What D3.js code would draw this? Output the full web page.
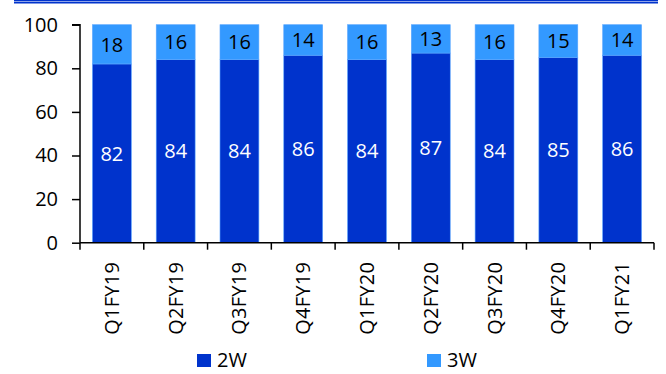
<!DOCTYPE html>
<html>
<head>
<meta charset="utf-8">
<script src="https://cdnjs.cloudflare.com/ajax/libs/d3/7.8.5/d3.min.js"></script>
<style>
  body { margin: 0; background: #fff; }
  text { font-family: "Open Sans", sans-serif; }
</style>
</head>
<body>
<div id="chart"></div>
<script>
// Chart data
var quarters = ["Q1FY19", "Q2FY19", "Q3FY19", "Q4FY19", "Q1FY20", "Q2FY20", "Q3FY20", "Q4FY20", "Q1FY21"];
var twoW = [82, 84, 84, 86, 84, 87, 84, 85, 86];
var threeW = [18, 16, 16, 14, 16, 13, 16, 15, 14];
var yTicks = [0, 20, 40, 60, 80, 100];
var seriesNames = ["2W", "3W"];

var colors = { "2W": "#0033cc", "3W": "#3399ff" };

// SVG area
var svgWidth = 666;
var svgHeight = 374;

var margin = { top: 24.7, right: 12, bottom: 131.3, left: 80 };
var width = 654 - margin.left;
var height = svgHeight - margin.top - margin.bottom;

var svg = d3.select("#chart")
  .append("svg")
  .attr("width", svgWidth)
  .attr("height", svgHeight);

// top rule lines
svg.append("line")
  .attr("x1", 14).attr("x2", 658)
  .attr("y1", 0.6).attr("y2", 0.6)
  .attr("stroke", "#0033cc").attr("stroke-width", 1.2);
svg.append("line")
  .attr("x1", 14).attr("x2", 658)
  .attr("y1", 2.6).attr("y2", 2.6)
  .attr("stroke", "#0033cc").attr("stroke-width", 1.6);

var chartGroup = svg.append("g")
  .attr("transform", `translate(${margin.left}, ${margin.top})`);

// Build stacked rows
var rows = quarters.map(function(q, i) {
  return { q: q, "2W": twoW[i], "3W": threeW[i] };
});
var stacked = d3.stack().keys(seriesNames)(rows);

// Scales
var xScale = d3.scaleBand()
  .domain(quarters)
  .range([0, width])
  .paddingInner(0.39)
  .paddingOuter(0.195);

var yScale = d3.scaleLinear()
  .domain([0, 100])
  .range([height, 0]);

// Bars
var layers = chartGroup.selectAll(".layer")
  .data(stacked)
  .enter()
  .append("g")
  .attr("class", "layer")
  .attr("fill", d => colors[d.key]);

layers.selectAll("rect")
  .data(d => d)
  .enter()
  .append("rect")
  .attr("x", d => xScale(d.data.q))
  .attr("y", d => yScale(d[1]))
  .attr("width", xScale.bandwidth())
  .attr("height", d => yScale(d[0]) - yScale(d[1]))
  .attr("stroke", "#5aa6ff")
  .attr("stroke-width", 0.6);

// Value labels
stacked.forEach(function(layer) {
  chartGroup.selectAll(null)
    .data(layer)
    .enter()
    .append("text")
    .attr("x", d => xScale(d.data.q) + xScale.bandwidth() / 2)
    .attr("y", d => (yScale(d[0]) + yScale(d[1])) / 2)
    .attr("dy", "0.36em")
    .attr("text-anchor", "middle")
    .attr("font-size", "20px")
    .attr("fill", layer.key === "2W" ? "#ffffff" : "#000000")
    .text(d => d.data[layer.key]);
});

// Axes
var leftAxis = d3.axisLeft(yScale).tickValues(yTicks).tickSize(8).tickPadding(14);
var yAxisG = chartGroup.append("g").call(leftAxis);
yAxisG.select(".domain").attr("stroke-width", 1.5).attr("d", `M-8,0H0V${height}`);
yAxisG.selectAll(".tick line").attr("stroke-width", 1.5);
yAxisG.selectAll("text").attr("font-size", "20px").attr("fill", "#000");

// x axis line and ticks at band boundaries
var xAxisG = chartGroup.append("g")
  .attr("transform", `translate(0, ${height})`);
xAxisG.append("line")
  .attr("x1", 0).attr("x2", width)
  .attr("y1", 0).attr("y2", 0)
  .attr("stroke", "#000").attr("stroke-width", 1.5);
var boundaries = d3.range(quarters.length + 1).map(i => i * width / quarters.length);
xAxisG.selectAll(".xtick")
  .data(boundaries)
  .enter()
  .append("line")
  .attr("x1", d => d).attr("x2", d => d)
  .attr("y1", 0).attr("y2", 7)
  .attr("stroke", "#000").attr("stroke-width", 1.5);

xAxisG.selectAll(".xlab")
  .data(quarters)
  .enter()
  .append("text")
  .attr("transform", d => `translate(${xScale(d) + xScale.bandwidth() / 2 + 7}, 19) rotate(-90)`)
  .attr("text-anchor", "end")
  .attr("font-size", "20px")
  .attr("letter-spacing", "0.3px")
  .attr("fill", "#000")
  .text(d => d);

// Legend
var legendX = [197, 427];
var legend = svg.selectAll(".legend")
  .data(seriesNames)
  .enter()
  .append("g")
  .attr("transform", (d, i) => `translate(${legendX[i]}, 354)`);
legend.append("rect")
  .attr("width", 14).attr("height", 13)
  .attr("fill", d => colors[d]);
legend.append("text")
  .attr("x", 20).attr("y", 13)
  .attr("font-size", "20px")
  .attr("fill", "#000")
  .text(d => d);
</script>
</body>
</html>
